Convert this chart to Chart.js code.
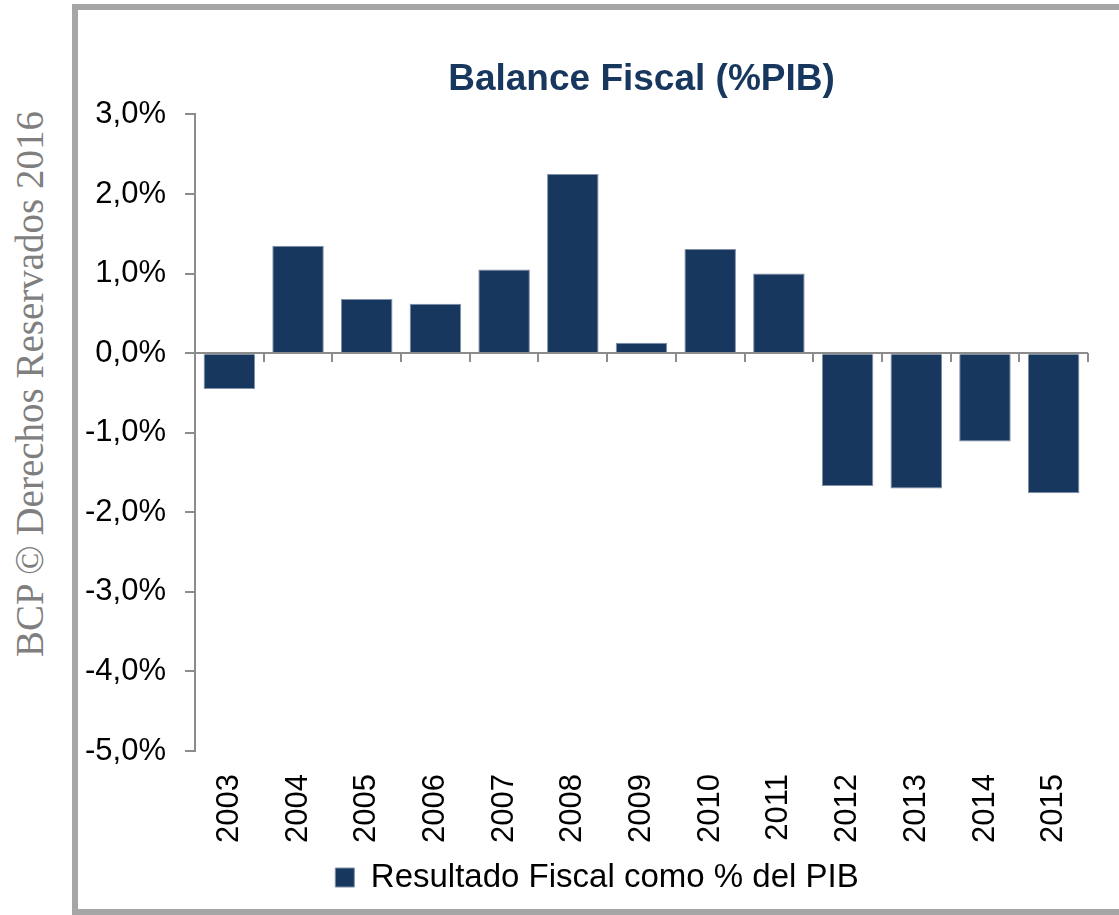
<!DOCTYPE html>
<html lang="es">
<head>
<meta charset="utf-8">
<title>Balance Fiscal (%PIB)</title>
<script src="https://cdn.jsdelivr.net/npm/chart.js@4.4.1/dist/chart.umd.min.js"></script>
<style>
  html, body { margin: 0; padding: 0; background: #fff; }
  body { width: 1119px; height: 915px; position: relative; overflow: hidden; }
  #marca {
    position: absolute; left: 29px; top: 384px;
    transform: translate(-50%, -50%) rotate(-90deg);
    white-space: nowrap; line-height: 1;
    font-family: "Liberation Serif", "DejaVu Serif", serif;
    font-size: 39px; color: #7f7f7f;
  }
  #marco {
    position: absolute; left: 72px; top: 4px;
    width: 1100px; height: 899px;
    border: 6px solid #a6a6a6;
  }
  #contenedor { position: absolute; left: 78px; top: 10px; width: 1041px; height: 899px; }
</style>
</head>
<body>
<div id="marca">BCP © Derechos Reservados 2016</div>
<div id="marco"></div>
<div id="contenedor"><canvas id="balanceChart"></canvas></div>
<script>
// --- DATOS ---
const anios = ["2003", "2004", "2005", "2006", "2007", "2008", "2009", "2010", "2011", "2012", "2013", "2014", "2015"];
const resultadoFiscal = [-0.45, 1.35, 0.68, 0.62, 1.05, 2.25, 0.13, 1.31, 1.00, -1.67, -1.70, -1.11, -1.76];
const ejeYMin = -5;
const ejeYMax = 3;
const ejeYPaso = 1;

const azul = "#17375e";
const gris = "#8c8c8c";
const fuente = "'Liberation Sans', Arial, sans-serif";

// Línea del cero con las marcas hacia abajo entre categorías
const lineaCero = {
  id: "lineaCero",
  afterDatasetsDraw(chart) {
    const x = chart.scales.x;
    const y = chart.scales.y;
    const ctx = chart.ctx;
    const y0 = Math.round(y.getPixelForValue(0));
    const mitad = (x.getPixelForValue(1) - x.getPixelForValue(0)) / 2;
    ctx.save();
    ctx.strokeStyle = gris;
    ctx.lineWidth = 2;
    ctx.beginPath();
    ctx.moveTo(x.left, y0);
    ctx.lineTo(x.right, y0);
    for (let i = 0; i < anios.length; i++) {
      const px = Math.round(x.getPixelForValue(i) + mitad);
      ctx.moveTo(px, y0);
      ctx.lineTo(px, y0 + 9);
    }
    ctx.stroke();
    ctx.restore();
  }
};

// La leyenda va un poco más a la derecha que el centro del lienzo
const moverLeyenda = {
  id: "moverLeyenda",
  afterLayout(chart) {
    chart.legend.left += 14;
    chart.legend.right += 14;
  }
};

new Chart(document.getElementById("balanceChart"), {
  type: "bar",
  data: {
    labels: anios,
    datasets: [{
      label: "Resultado Fiscal como % del PIB",
      data: resultadoFiscal,
      backgroundColor: azul,
      borderColor: "#7f90a8",
      borderWidth: 1,
      categoryPercentage: 1,
      barPercentage: 0.75
    }]
  },
  options: {
    responsive: true,
    maintainAspectRatio: false,
    animation: false,
    layout: { padding: { left: 0, right: 31, top: 0, bottom: 5 } },
    scales: {
      x: {
        grid: { display: false },
        border: { display: false },
        ticks: {
          autoSkip: false, minRotation: 90, maxRotation: 90, padding: 15,
          color: "#000", font: { family: fuente, size: 31 }
        },
        afterFit(scale) { scale.height = 100; }
      },
      y: {
        min: ejeYMin,
        max: ejeYMax,
        border: { display: true, color: gris, width: 2 },
        grid: { drawOnChartArea: false, drawTicks: true, tickLength: 10, color: gris, lineWidth: 2 },
        ticks: {
          stepSize: ejeYPaso, padding: 19, color: "#000",
          font: { family: fuente, size: 31 },
          callback: v => v.toFixed(1).replace(".", ",") + "%"
        },
        afterFit(scale) { scale.width = 117; }
      }
    },
    plugins: {
      title: {
        display: true,
        fullSize: false,
        text: "Balance Fiscal (%PIB)",
        color: azul,
        font: { family: fuente, size: 37, weight: "bold" },
        padding: { top: 48, bottom: 12 }
      },
      legend: {
        position: "bottom",
        labels: {
          color: "#000", boxWidth: 19, boxHeight: 19, padding: 10,
          font: { family: fuente, size: 33 }
        }
      },
      tooltip: { enabled: false }
    }
  },
  plugins: [lineaCero, moverLeyenda]
});
</script>
</body>
</html>
